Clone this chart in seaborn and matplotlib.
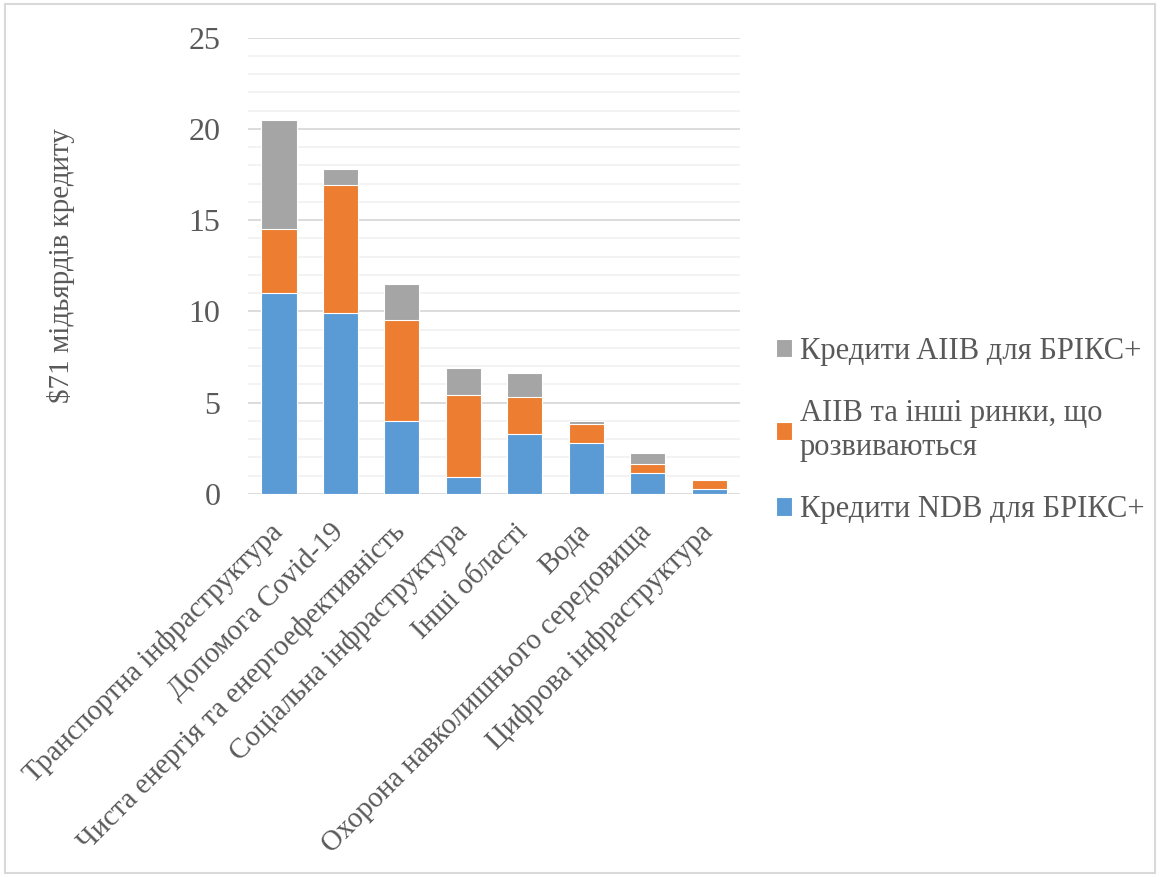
import matplotlib
matplotlib.use("Agg")
import matplotlib.pyplot as plt
import matplotlib.patches as mpatches
import matplotlib.transforms as mtransforms
import numpy as np
import pandas as pd
import seaborn as sns

# Data
categories = [
    "Транспортна інфраструктура",
    "Допомога Covid-19",
    "Чиста енергія та енергоефективність",
    "Соціальна інфраструктура",
    "Інші області",
    "Вода",
    "Охорона навколишнього середовища",
    "Цифрова інфраструктура",
]
ndb_brics = [11.0, 9.9, 4.0, 0.9, 3.3, 2.8, 1.15, 0.25]
aiib_other = [3.5, 7.0, 5.5, 4.5, 2.0, 1.0, 0.5, 0.5]
aiib_brics = [6.0, 0.9, 2.0, 1.5, 1.3, 0.2, 0.6, 0.08]

series_labels = [
    "Кредити AIIB для БРІКС+",
    "AIIB та інші ринки, що\nрозвиваються",
    "Кредити NDB для БРІКС+",
]
colors = ["#A5A5A5", "#ED7D31", "#5B9BD5"]

df = pd.DataFrame({
    "category": categories,
    "ndb": ndb_brics,
    "other": aiib_other,
    "aiib": aiib_brics,
})
# cumulative heights, drawn back to front for stacking
df["lvl1"] = df["ndb"]
df["lvl2"] = df["ndb"] + df["other"]
df["lvl3"] = df["lvl2"] + df["aiib"]

sns.set_theme(style="white")
plt.rcParams["font.family"] = ["Liberation Serif", "DejaVu Serif"]
text_color = "#595959"

fig = plt.figure(figsize=(11.6, 8.77), dpi=100)
ax = fig.add_axes([0.214, 0.437, 0.424, 0.520])

for col, lab, c in zip(["lvl3", "lvl2", "lvl1"], series_labels, colors):
    sns.barplot(data=df, x="category", y=col, color=c, label=lab,
                width=0.57, edgecolor="white", linewidth=0.8,
                saturation=1, ax=ax, order=categories)

ax.set_ylim(0, 25)
ax.set_xlim(-0.5, len(categories) - 0.5)
ax.set_yticks(np.arange(0, 26, 5))
ax.set_yticks(np.arange(0, 26, 1), minor=True)
ax.grid(axis="y", which="major", color="#D9D9D9", linewidth=1.3)
ax.grid(axis="y", which="minor", color="#F2F2F2", linewidth=1.3)
ax.set_axisbelow(True)
for s in ax.spines.values():
    s.set_visible(False)

ax.tick_params(axis="y", which="both", length=0, pad=20, labelsize=23,
               labelcolor=text_color)
ax.tick_params(axis="x", length=0, pad=18, labelsize=20.7, labelcolor=text_color)
ax.set_xticks(range(len(categories)))
ax.set_xticklabels(categories, rotation=45, ha="right", rotation_mode="anchor")
# nudge rotated labels a little to the left
shift = mtransforms.ScaledTranslation(-0.10, 0, fig.dpi_scale_trans)
for lbl in ax.get_xticklabels():
    lbl.set_transform(lbl.get_transform() + shift)
ax.set_xlabel("")
ax.set_ylabel("")

fig.text(61 / 1160, 1 - 266 / 877, "$71 мідьярдів кредиту", rotation=90,
         ha="center", va="center", fontsize=21, color=text_color)

handles, labels = ax.get_legend_handles_labels()
if ax.get_legend() is not None:
    ax.get_legend().remove()
fig.legend(handles, labels, loc="center left", bbox_to_anchor=(0.658, 0.509),
           borderaxespad=0, frameon=False, fontsize=22, labelcolor=text_color,
           handlelength=0.55, handleheight=0.55, handletextpad=0.25,
           labelspacing=1.1)

# light chart border
fig.patches.append(mpatches.Rectangle((0.004, 0.004), 0.992, 0.992,
                                      transform=fig.transFigure, fill=False,
                                      edgecolor="#D9D9D9", linewidth=1.5))

fig.savefig("out.png", dpi=100, facecolor="white")
